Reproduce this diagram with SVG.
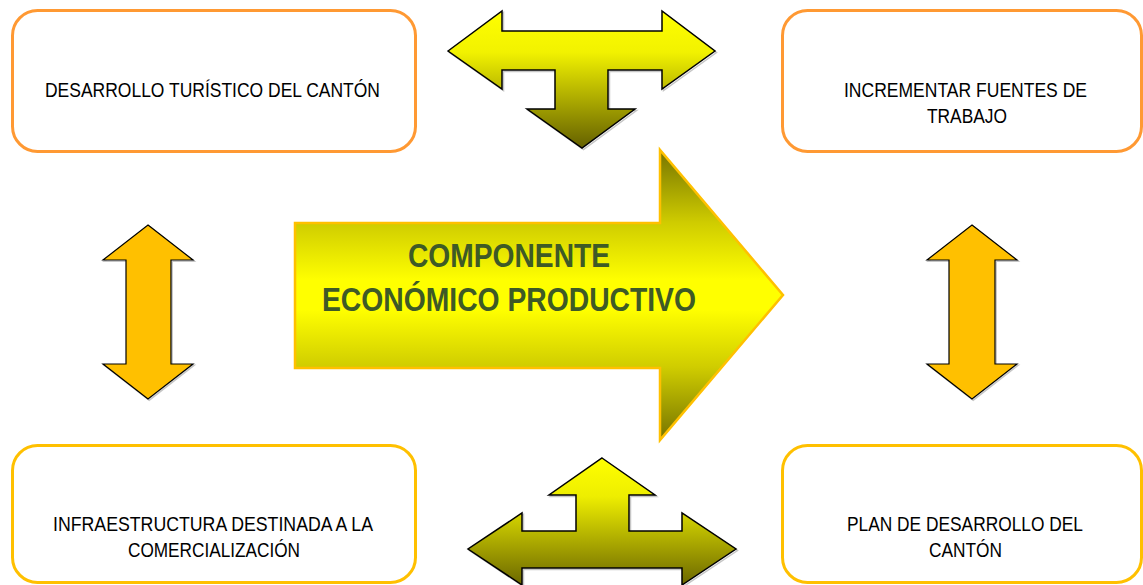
<svg xmlns="http://www.w3.org/2000/svg" width="1143" height="585" viewBox="0 0 1143 585">
<defs>
<linearGradient id="gMain" gradientUnits="userSpaceOnUse" x1="0" y1="150" x2="0" y2="440">
<stop offset="0" stop-color="#767400"/>
<stop offset="0.25" stop-color="#CFCC00"/>
<stop offset="0.45" stop-color="#FFFF00"/>
<stop offset="0.55" stop-color="#FFFF00"/>
<stop offset="0.75" stop-color="#CFCC00"/>
<stop offset="1" stop-color="#767400"/>
</linearGradient>
<linearGradient id="gTop" gradientUnits="userSpaceOnUse" x1="0" y1="11" x2="0" y2="148">
<stop offset="0" stop-color="#FFFF00"/>
<stop offset="0.3" stop-color="#F2F200"/>
<stop offset="1" stop-color="#646000"/>
</linearGradient>
<linearGradient id="gBot" gradientUnits="userSpaceOnUse" x1="0" y1="458" x2="0" y2="586">
<stop offset="0" stop-color="#FFFF00"/>
<stop offset="0.3" stop-color="#EEEE00"/>
<stop offset="1" stop-color="#6A6600"/>
</linearGradient>
<style>
.box{fill:#FFFFFF;stroke-width:3}
.orange{stroke:#FF9933}
.gold{stroke:#FFC000}
.lbl{font-family:"Liberation Sans Narrow","Arial Narrow","Liberation Sans",sans-serif;font-size:21px;fill:#000000;text-anchor:middle}
.big{font-family:"Liberation Sans Narrow","Arial Narrow","Liberation Sans",sans-serif;font-size:33px;font-weight:bold;fill:#3E5A26;text-anchor:middle}
.shadow{fill:none;stroke:#A0A0A0;stroke-width:1.5;opacity:0.6}
.tarrow{stroke:#000000;stroke-width:1.5;stroke-linejoin:miter}
.varrow{fill:#FFC000;stroke:#000000;stroke-width:1.2}
</style>
</defs>
<rect width="1143" height="585" fill="#FFFFFF"/>

<g id="connectors">
<g id="arrow-top">
<polygon class="shadow" transform="translate(1.5,1.5)" points="448,51 502,11 502,31 662,31 662,11 715,51 662,89 662,70 608,70 608,109 635,109 582,148 527,109 555,109 555,70 502,70 502,89"/>
<polygon class="tarrow" fill="url(#gTop)" points="448,51 502,11 502,31 662,31 662,11 715,51 662,89 662,70 608,70 608,109 635,109 582,148 527,109 555,109 555,70 502,70 502,89"/>
</g>
<g id="arrow-bottom">
<polygon class="shadow" transform="translate(1.5,1.5)" points="602,458 655,495 629,495 629,531 682,531 682,513 736,549 682,585 682,568 522,568 522,585 468,549 522,513 522,531 576,531 576,495 549,495"/>
<polygon class="tarrow" fill="url(#gBot)" points="602,458 655,495 629,495 629,531 682,531 682,513 736,549 682,585 682,568 522,568 522,585 468,549 522,513 522,531 576,531 576,495 549,495"/>
</g>
<g id="arrow-left">
<polygon class="shadow" transform="translate(1.2,1.2)" points="148,225 193,260 171,260 171,364 193,364 148,399 103,364 126,364 126,260 103,260"/>
<polygon class="varrow" points="148,225 193,260 171,260 171,364 193,364 148,399 103,364 126,364 126,260 103,260"/>
</g>
<g id="arrow-right">
<polygon class="shadow" transform="translate(1.2,1.2)" points="972,225 1017,260 995,260 995,364 1017,364 972,399 927,364 949,364 949,260 927,260"/>
<polygon class="varrow" points="972,225 1017,260 995,260 995,364 1017,364 972,399 927,364 949,364 949,260 927,260"/>
</g>
</g>

<g id="node-center">
<polygon points="295,223 660,223 660,150 783,295 660,440 660,368 295,368" fill="url(#gMain)" stroke="#FFC000" stroke-width="2.5"/>
<text class="big" x="509" y="267" textLength="202" lengthAdjust="spacingAndGlyphs">COMPONENTE</text>
<text class="big" x="509" y="311" textLength="374" lengthAdjust="spacingAndGlyphs">ECONÓMICO PRODUCTIVO</text>
</g>

<g id="node-turistico">
<rect class="box orange" x="12.5" y="10.5" width="403" height="141" rx="25" ry="25"/>
<text class="lbl" x="212.5" y="97" textLength="335" lengthAdjust="spacingAndGlyphs">DESARROLLO TURÍSTICO DEL CANTÓN</text>
</g>

<g id="node-fuentes">
<rect class="box orange" x="782.5" y="10.5" width="359" height="141" rx="25" ry="25"/>
<text class="lbl" x="965.5" y="97" textLength="243" lengthAdjust="spacingAndGlyphs">INCREMENTAR FUENTES DE</text>
<text class="lbl" x="967" y="123" textLength="80" lengthAdjust="spacingAndGlyphs">TRABAJO</text>
</g>

<g id="node-infraestructura">
<rect class="box gold" x="12.5" y="445.5" width="403" height="137" rx="25" ry="25"/>
<text class="lbl" x="213" y="531" textLength="320" lengthAdjust="spacingAndGlyphs">INFRAESTRUCTURA DESTINADA A LA</text>
<text class="lbl" x="214" y="557" textLength="172" lengthAdjust="spacingAndGlyphs">COMERCIALIZACIÓN</text>
</g>

<g id="node-plan">
<rect class="box gold" x="782.5" y="445.5" width="359" height="137" rx="25" ry="25"/>
<text class="lbl" x="965" y="531" textLength="236" lengthAdjust="spacingAndGlyphs">PLAN DE DESARROLLO DEL</text>
<text class="lbl" x="965.5" y="557" textLength="73" lengthAdjust="spacingAndGlyphs">CANTÓN</text>
</g>
</svg>
